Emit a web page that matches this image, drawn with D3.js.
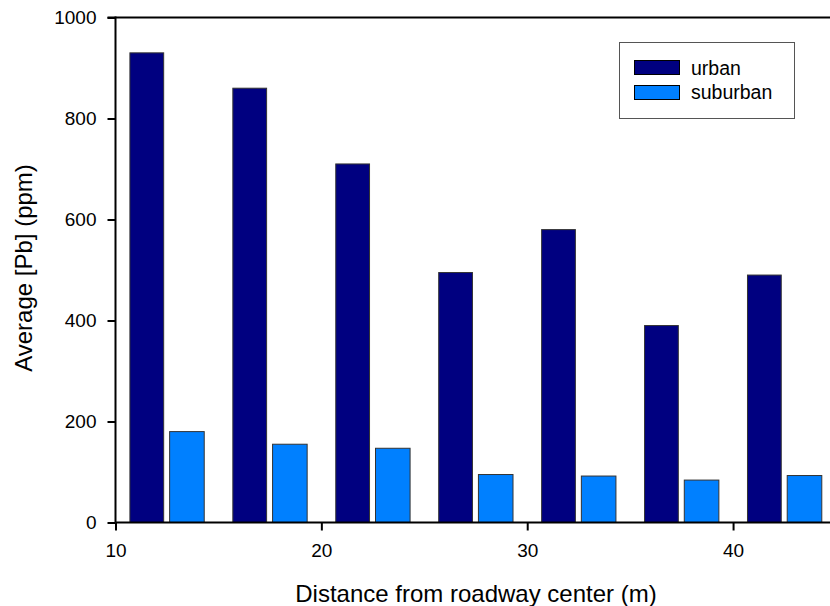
<!DOCTYPE html>
<html>
<head>
<meta charset="utf-8">
<script src="https://cdn.jsdelivr.net/npm/d3@7"></script>
<style>
  body { margin: 0; background: #fff; }
  svg { display: block; font-family: "Liberation Sans", Arial, sans-serif; }
</style>
</head>
<body>
<svg id="chart" width="830" height="606"></svg>
<script>
const distances = [12.5, 17.5, 22.5, 27.5, 32.5, 37.5, 42.5];
const urban = [930, 860, 710, 495, 580, 390, 490];
const suburban = [180, 155, 147, 95, 92, 84, 93];
const seriesNames = ["urban", "suburban"];
const seriesColors = ["#000080", "#0080ff"];
const xTicks = [10, 20, 30, 40];
const yTicks = [0, 200, 400, 600, 800, 1000];

const svg = d3.select("#chart");
const x = d3.scaleLinear().domain([10, 45]).range([115.5, 836]);
const y = d3.scaleLinear().domain([0, 1000]).range([522.5, 17.5]);

// bars
const barOffsets = [[-1.8, -0.16], [0.13, 1.81]];
const seriesData = [urban, suburban];
seriesData.forEach((vals, si) => {
  svg.append("g").selectAll("rect")
    .data(vals.map((v, i) => ({ d: distances[i], v })))
    .join("rect")
    .attr("x", d => x(d.d + barOffsets[si][0]))
    .attr("width", d => x(d.d + barOffsets[si][1]) - x(d.d + barOffsets[si][0]))
    .attr("y", d => y(d.v))
    .attr("height", d => y(0) - y(d.v))
    .attr("fill", seriesColors[si])
    .attr("stroke", "#333")
    .attr("stroke-width", 1);
});

// top frame line
svg.append("line")
  .attr("x1", x(10) - 8).attr("x2", 830)
  .attr("y1", y(1000)).attr("y2", y(1000))
  .attr("stroke", "#000").attr("stroke-width", 2);

// axes
const xAxis = svg.append("g")
  .attr("transform", `translate(0,${y(0)})`)
  .call(d3.axisBottom(x).tickValues(xTicks).tickSize(8).tickPadding(13).tickFormat(d3.format("d")));
const yAxis = svg.append("g")
  .attr("transform", `translate(${x(10)},0)`)
  .call(d3.axisLeft(y).tickValues(yTicks).tickSize(8).tickPadding(11).tickFormat(d3.format("d")));
[xAxis, yAxis].forEach(g => {
  g.select(".domain").attr("stroke", "#000").attr("stroke-width", 2);
  g.selectAll(".tick line").attr("stroke", "#000").attr("stroke-width", 2);
  g.selectAll(".tick text").attr("font-size", 19).attr("fill", "#000")
    .attr("font-family", "Liberation Sans, Arial, sans-serif");
});
xAxis.select(".domain").attr("d", `M${x(10)},0H830`);
yAxis.select(".domain").attr("d", `M0,${y(0)}V${y(1000) - 1}`);

// axis titles
svg.append("text")
  .attr("x", 476).attr("y", 602)
  .attr("text-anchor", "middle")
  .attr("font-size", 24)
  .text("Distance from roadway center (m)");
svg.append("text")
  .attr("transform", "translate(31.5,268) rotate(-90)")
  .attr("text-anchor", "middle")
  .attr("font-size", 24)
  .text("Average [Pb] (ppm)");

// legend
const lg = svg.append("g");
lg.append("rect")
  .attr("x", 619.5).attr("y", 42.5).attr("width", 175).attr("height", 76)
  .attr("fill", "#fff").attr("stroke", "#555").attr("stroke-width", 1);
seriesNames.forEach((n, i) => {
  lg.append("rect")
    .attr("x", 634.5).attr("y", 60.5 + i * 25).attr("width", 45).attr("height", 14)
    .attr("fill", seriesColors[i]).attr("stroke", "#000").attr("stroke-width", 1);
  lg.append("text")
    .attr("x", 691).attr("y", 74.5 + i * 24.5)
    .attr("font-size", 19.5)
    .text(n);
});
</script>
</body>
</html>
